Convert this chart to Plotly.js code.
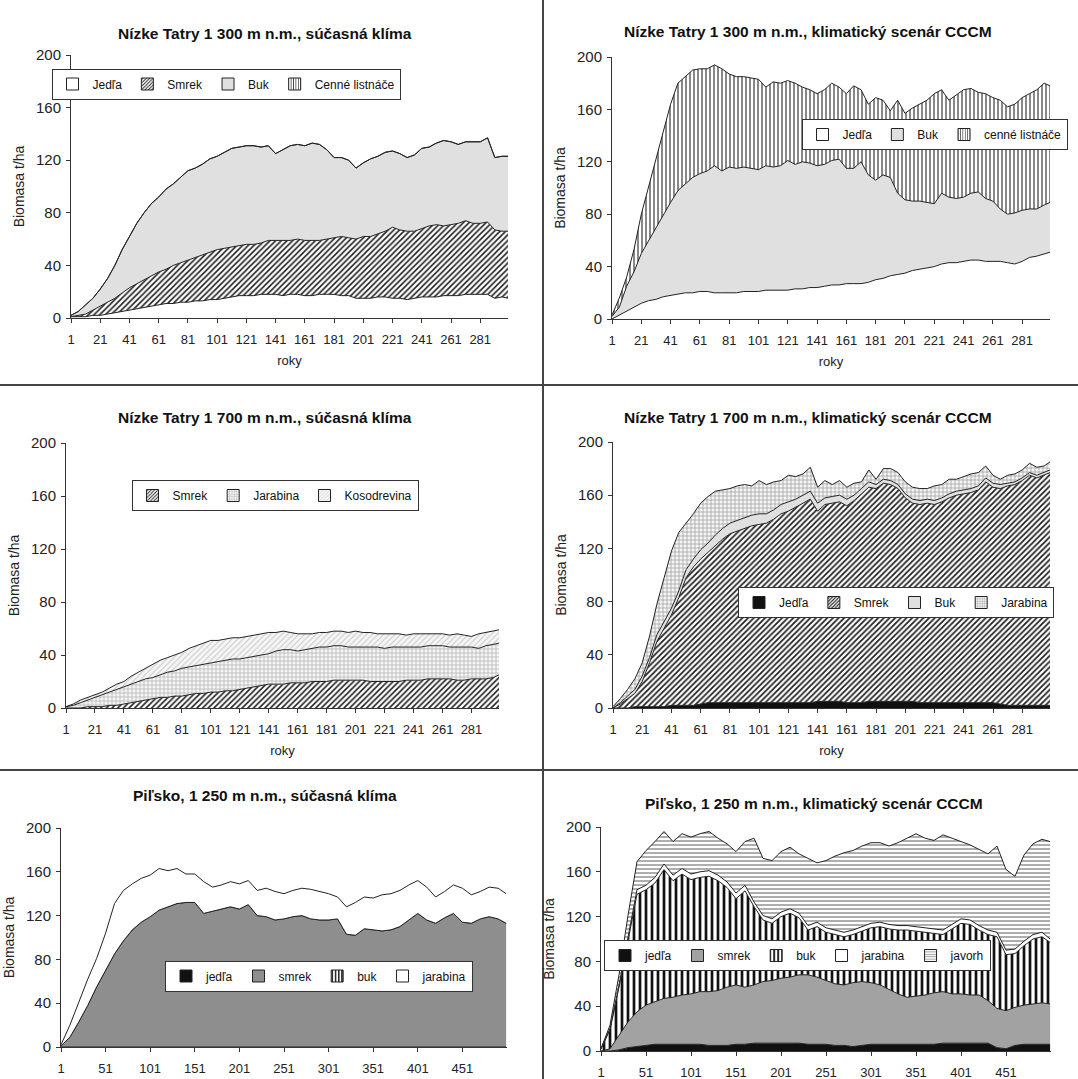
<!DOCTYPE html>
<html><head><meta charset="utf-8">
<script src="https://cdn.plot.ly/plotly-3.0.1.min.js"></script>
<style>html,body{margin:0;padding:0;background:#fff;overflow:hidden}#chart{width:1078px;height:1079px}</style>
</head><body><div id="chart"></div>
<script>
// ---------- years ----------
const yrs300 = [1,6,11,16,21,26,31,36,41,46,51,56,61,66,71,76,81,86,91,96,101,106,111,116,121,126,131,136,141,146,151,156,161,166,171,176,181,186,191,196,201,206,211,216,221,226,231,236,241,246,251,256,261,266,271,276,281,286,291,296,300];
const yrs500 = [1,11,21,31,41,51,61,71,81,91,101,111,121,131,141,151,161,171,181,191,201,211,221,231,241,251,261,271,281,291,301,311,321,331,341,351,361,371,381,391,401,411,421,431,441,451,461,471,481,491,500];
const ticks300 = [1,21,41,61,81,101,121,141,161,181,201,221,241,261,281];
const ticks500 = [1,51,101,151,201,251,301,351,401,451];

// ---------- A: Nízke Tatry 1 300, súčasná klíma ----------
const a_jedla = [1,1,1,2,2,3,4,5,6,7,8,9,10,11,11,12,12,13,13,14,14,15,16,17,17,17,18,18,18,17,18,18,17,17,18,18,18,17,17,15,15,15,16,16,15,15,14,15,16,16,16,17,17,17,18,18,18,18,15,16,15];
const a_smrek = [0,1,2,4,7,9,11,14,17,19,21,23,25,26,29,30,32,33,35,36,38,38,38,38,39,39,39,41,41,42,41,42,42,42,41,42,43,45,44,45,47,47,48,50,54,52,52,51,52,54,55,53,54,55,56,54,54,55,52,50,51];
const a_buk = [1,3,7,9,13,18,25,33,39,46,51,55,57,61,62,65,68,68,69,71,71,73,75,75,75,75,73,72,66,69,72,72,72,74,73,68,61,60,59,54,56,59,59,60,58,58,56,58,61,60,62,65,63,60,60,62,62,64,55,57,57];
const a_cenne = [0,0,0,0,0,0,0,0,0,0,0,0,0,0,0,0,0,0,0,0,0,0,0,0,0,0,0,0,0,0,0,0,0,0,0,0,0,0,0,0,0,0,0,0,0,0,0,0,0,0,0,0,0,0,0,0,0,0,0,0,0];

// ---------- B: Nízke Tatry 1 300, CCCM ----------
const b_jedla = [0,3,6,9,12,14,15,17,18,19,20,20,21,21,20,20,20,20,21,21,21,22,22,22,22,23,23,24,24,25,26,26,27,27,27,28,30,31,33,34,35,37,38,39,40,42,43,43,44,45,45,44,44,44,43,42,44,47,48,50,51];
const b_buk = [2,6,19,27,38,46,55,62,71,79,83,88,90,92,97,93,96,95,95,94,93,95,94,95,99,95,97,95,93,93,95,96,88,88,93,82,76,79,75,62,56,53,52,50,48,54,50,49,49,51,52,48,46,40,37,39,39,37,36,37,38];
const b_cenne = [1,7,7,17,30,41,54,64,75,82,82,82,80,78,77,78,71,70,69,69,69,60,65,63,61,62,57,56,55,57,59,55,57,63,55,54,63,57,51,71,66,71,74,78,84,79,74,79,82,80,76,80,79,83,82,83,86,88,91,93,89];

// ---------- C: Nízke Tatry 1 700, súčasná klíma ----------
const c_smrek = [0,0,0,1,1,1,2,2,3,4,5,6,7,8,8,9,9,10,11,11,12,12,13,13,14,15,16,17,18,18,18,19,19,19,20,20,20,21,21,21,21,21,20,20,20,20,20,21,21,21,22,22,22,22,21,21,22,22,22,23,25];
const c_jarabina = [1,2,4,5,7,9,10,12,13,14,15,16,16,17,19,19,21,21,21,22,22,23,23,24,23,23,23,23,23,25,26,25,24,25,25,26,26,26,26,25,25,25,26,26,25,26,26,25,25,25,25,25,25,24,25,25,24,23,25,25,24];
const c_koso = [0,1,2,2,2,2,3,4,4,6,7,8,10,11,11,12,12,14,15,16,17,16,16,16,16,16,16,16,16,14,14,13,13,12,11,11,11,11,11,11,12,11,11,10,11,10,10,9,10,10,9,9,9,9,10,9,8,11,10,10,10];

// ---------- D: Nízke Tatry 1 700, CCCM ----------
const d_jedla = [0,0,0,1,1,1,1,1,2,2,2,2,3,4,4,4,4,4,4,4,4,4,4,4,4,4,4,4,5,5,5,5,4,4,4,5,5,5,5,5,5,5,4,4,4,4,4,4,4,4,4,4,4,3,2,2,2,2,2,2,2];
const d_smrek = [0,3,7,10,19,33,49,59,68,81,96,104,109,113,118,123,127,129,131,133,134,135,138,142,144,147,150,153,143,148,149,150,148,152,157,161,160,164,163,160,153,149,149,150,149,151,154,156,157,158,160,166,162,162,165,166,169,173,171,173,175];
const d_buk = [0,1,2,3,4,4,5,5,5,5,6,6,7,7,8,8,8,8,8,8,8,7,7,7,7,6,6,6,6,5,5,5,5,4,4,4,3,3,3,3,3,3,3,3,3,3,3,3,3,3,3,3,3,3,2,2,2,2,2,2,2];
const d_jarabina = [1,3,5,8,10,16,23,33,43,44,35,34,35,35,33,29,26,26,25,22,25,22,21,18,20,17,16,18,12,13,9,11,9,9,5,9,4,8,9,9,9,9,9,8,11,10,11,9,10,11,10,9,6,4,6,6,6,7,6,5,6];

// ---------- E: Piľsko, súčasná klíma ----------
const e_jedla = [0,0,0,0,0,0,0,0,0,0,0,0,0,0,0,0,0,0,0,0,0,0,0,0,0,0,0,0,0,0,0,0,0,0,0,0,0,0,0,0,0,0,0,0,0,0,0,0,0,0,0];
const e_smrek = [1,9,23,38,55,70,85,97,107,114,119,125,128,131,132,132,122,124,126,128,126,130,120,119,116,117,119,120,117,116,116,117,103,102,108,107,106,107,110,116,122,116,113,118,122,114,113,117,119,117,113];
const e_buk = [0,0,0,0,0,0,0,0,0,0,0,0,0,0,0,0,0,0,0,0,0,0,0,0,0,0,0,0,0,0,0,0,0,0,0,0,0,0,0,0,0,0,0,0,0,0,0,0,0,0,0];
const e_jarabina = [1,11,18,24,26,34,46,46,42,40,38,38,33,32,26,26,29,22,22,23,23,22,23,26,26,23,24,25,27,26,24,20,25,30,29,29,33,33,33,32,30,30,24,24,26,31,26,25,27,28,27];

// ---------- F: Piľsko, CCCM ----------
const f_jedla = [0,0,1,3,4,5,6,6,6,6,6,6,5,5,5,6,6,7,7,7,7,7,7,6,6,6,5,5,4,5,6,6,6,6,6,6,6,6,7,7,7,7,7,7,3,2,5,6,6,6,6];
const f_smrek = [0,2,13,23,31,36,38,41,42,44,45,47,48,49,52,53,51,52,55,56,58,59,61,62,60,57,55,54,57,57,55,53,49,45,42,43,44,46,46,44,44,43,43,38,35,34,34,35,36,37,36];
const f_buk = [2,17,43,74,105,103,106,115,104,108,102,102,103,98,89,77,86,70,55,51,55,57,51,40,45,43,44,43,43,45,49,52,54,57,60,58,56,53,51,58,63,63,58,59,64,50,48,53,58,59,55];
const f_jarabina = [0,1,2,3,4,4,5,5,5,5,5,5,5,5,5,5,5,4,4,4,4,4,4,4,4,4,4,4,4,4,4,4,4,4,4,4,4,4,4,4,4,4,4,4,4,4,4,4,4,4,3];
const f_javorh = [0,3,9,18,25,31,32,29,30,31,33,34,35,33,34,37,39,57,51,52,54,55,53,60,53,60,66,71,71,72,72,71,70,74,78,83,80,79,85,77,69,67,68,68,77,72,65,77,81,83,87];

// ---------- styles ----------
const FONT = 'Liberation Sans, Arial, sans-serif';
const WHITE = {color:'#ffffff'};
const LGRAY = {color:'#e0e0e0'};
const BLACK = {color:'#111111'};
const pat = (shape, fg, bg, size, sol) => ({pattern:{shape:shape, fgcolor:fg, bgcolor:bg, size:size, solidity:sol, fillmode:'replace'}});

const data = [];
function series(x, y, name, ax, grp, leg, style) {
  // the stacked area itself
  const t = {
    type:'scatter', mode:'lines', x:x, y:y, name:name, showlegend:false,
    xaxis:'x'+ax, yaxis:'y'+ax, stackgroup:grp,
    line:{color:'#222', width:1}, hoverinfo:'skip'
  };
  if (style.pattern) { t.fillcolor = style.pattern.bgcolor; t.fillpattern = style.pattern; }
  else t.fillcolor = style.color;
  data.push(t);
  // legend key (square swatch, Excel-like), carries no data
  const k = {
    type:'bar', x:[null], y:[null], name:name, legend:leg, showlegend:true,
    xaxis:'x'+ax, yaxis:'y'+ax, hoverinfo:'skip',
    marker:{color: style.pattern ? style.pattern.bgcolor : style.color, line:{color:'#222', width:1}}
  };
  if (style.pattern) k.marker.pattern = {shape:style.pattern.shape, fgcolor:style.pattern.fgcolor,
      bgcolor:style.pattern.bgcolor, size:Math.max(3, style.pattern.size - 1), solidity:style.pattern.solidity};
  data.push(k);
}

series(yrs300, a_jedla, 'Jedľa', '', 'A', 'legend', WHITE);
series(yrs300, a_smrek, 'Smrek', '', 'A', 'legend', pat('/', '#222', '#ffffff', 4, 0.4));
series(yrs300, a_buk, 'Buk', '', 'A', 'legend', LGRAY);
series(yrs300, a_cenne, 'Cenné listnáče', '', 'A', 'legend', pat('|', '#444', '#ffffff', 4, 0.35));

series(yrs300, b_jedla, 'Jedľa', '2', 'B', 'legend2', WHITE);
series(yrs300, b_buk, 'Buk', '2', 'B', 'legend2', LGRAY);
series(yrs300, b_cenne, 'cenné listnáče', '2', 'B', 'legend2', pat('|', '#555', '#ffffff', 4, 0.35));

series(yrs300, c_smrek, 'Smrek', '3', 'C', 'legend3', pat('/', '#222', '#ffffff', 4, 0.4));
series(yrs300, c_jarabina, 'Jarabina', '3', 'C', 'legend3', pat('+', '#aaaaaa', '#f4f4f4', 4, 0.3));
series(yrs300, c_koso, 'Kosodrevina', '3', 'C', 'legend3', pat('/', '#c8c8c8', '#f6f6f6', 4, 0.25));

series(yrs300, d_jedla, 'Jedľa', '4', 'D', 'legend4', BLACK);
series(yrs300, d_smrek, 'Smrek', '4', 'D', 'legend4', pat('/', '#222', '#ffffff', 4, 0.45));
series(yrs300, d_buk, 'Buk', '4', 'D', 'legend4', LGRAY);
series(yrs300, d_jarabina, 'Jarabina', '4', 'D', 'legend4', pat('+', '#999999', '#f4f4f4', 4, 0.32));

series(yrs500, e_jedla, 'jedľa', '5', 'E', 'legend5', BLACK);
series(yrs500, e_smrek, 'smrek', '5', 'E', 'legend5', {color:'#8e8e8e'});
series(yrs500, e_buk, 'buk', '5', 'E', 'legend5', pat('|', '#111', '#ffffff', 5, 0.45));
series(yrs500, e_jarabina, 'jarabina', '5', 'E', 'legend5', WHITE);

series(yrs500, f_jedla, 'jedľa', '6', 'F', 'legend6', BLACK);
series(yrs500, f_smrek, 'smrek', '6', 'F', 'legend6', {color:'#a2a2a2'});
series(yrs500, f_buk, 'buk', '6', 'F', 'legend6', pat('|', '#111', '#ffffff', 6, 0.45));
series(yrs500, f_jarabina, 'jarabina', '6', 'F', 'legend6', WHITE);
series(yrs500, f_javorh, 'javorh', '6', 'F', 'legend6', pat('-', '#999999', '#ffffff', 4, 0.4));

// ---------- layout ----------
const W = 1078, H = 1079;
const px = v => v / W, py = v => 1 - v / H;

function xax(l, r, anchor, ticks, range, withTitle) {
  const a = {
    domain:[px(l), px(r)], anchor:anchor, range:range, tickvals:ticks, ticktext:ticks.map(String),
    ticks:'outside', ticklen:4, tickcolor:'#333', showline:true, linecolor:'#333', linewidth:1,
    showgrid:false, zeroline:false, tickfont:{family:FONT, size:13, color:'#222'}, ticklabelstandoff:5,
    fixedrange:true, automargin:false
  };
  if (withTitle) a.title = {text:'roky', font:{family:FONT, size:13, color:'#222'}, standoff:10};
  return a;
}
function yax(top, bot, anchor) {
  return {
    domain:[py(bot), py(top)], anchor:anchor, range:[0,200], tickvals:[0,40,80,120,160,200],
    ticks:'outside', ticklen:4, tickcolor:'#333', showline:true, linecolor:'#333', linewidth:1,
    showgrid:false, zeroline:false, tickfont:{family:FONT, size:15, color:'#222'}, ticklabelstandoff:2,
    title:{text:'Biomasa t/ha', font:{family:FONT, size:14, color:'#222'}, standoff:8},
    fixedrange:true, automargin:false
  };
}
function leg(xc, yc, anchor) {
  return {x:px(xc), y:py(yc), xanchor:anchor || 'center', yanchor:'middle', orientation:'h',
    bgcolor:'#ffffff', bordercolor:'#333', borderwidth:1, traceorder:'normal',
    font:{family:FONT, size:12, color:'#111'}, itemwidth:30};
}
function ttl(text, xc, yc) {
  return {text:'<b>'+text+'</b>', x:px(xc), y:py(yc), xref:'paper', yref:'paper',
    showarrow:false, xanchor:'center', yanchor:'middle', font:{family:FONT, size:15.5, color:'#111'}};
}

const layout = {
  width:W, height:H, margin:{l:0, r:0, t:0, b:0, autoexpand:false},
  paper_bgcolor:'#ffffff', plot_bgcolor:'rgba(0,0,0,0)', showlegend:true,
  font:{family:FONT}, barmode:'overlay',
  xaxis:  xax(71, 508, 'y', ticks300, [1,300], true),
  yaxis:  yax(55, 318, 'x'),
  xaxis2: xax(612, 1050, 'y2', ticks300, [1,300], true),
  yaxis2: yax(57, 319, 'x2'),
  xaxis3: xax(66, 499, 'y3', ticks300, [1,300], true),
  yaxis3: yax(443, 708, 'x3'),
  xaxis4: xax(613, 1050, 'y4', ticks300, [1,300], true),
  yaxis4: yax(442, 708, 'x4'),
  xaxis5: xax(61, 507, 'y5', ticks500, [1,501], false),
  yaxis5: yax(828, 1047, 'x5'),
  xaxis6: xax(601, 1051, 'y6', ticks500, [1,501], false),
  yaxis6: yax(827, 1051, 'x6'),
  legend:  leg(226, 84),
  legend2: leg(934.5, 134.5),
  legend3: leg(275, 495.5),
  legend4: leg(896, 602.5),
  legend5: leg(319, 976),
  legend6: leg(797.5, 955.5),
  annotations:[
    ttl('Nízke Tatry 1 300 m n.m., súčasná klíma', 265, 33),
    ttl('Nízke Tatry 1 300 m n.m., klimatický scenár CCCM', 808, 32),
    ttl('Nízke Tatry 1 700 m n.m., súčasná klíma', 265, 417),
    ttl('Nízke Tatry 1 700 m n.m., klimatický scenár CCCM', 808, 417),
    ttl('Piľsko, 1 250 m n.m., súčasná klíma', 265, 795),
    ttl('Piľsko, 1 250 m n.m., klimatický scenár CCCM', 814, 803)
  ],
  shapes:[
    {type:'line', xref:'paper', yref:'paper', x0:px(543), x1:px(543), y0:0, y1:1, line:{color:'#444', width:2}},
    {type:'line', xref:'paper', yref:'paper', x0:0, x1:1, y0:py(385), y1:py(385), line:{color:'#444', width:2}},
    {type:'line', xref:'paper', yref:'paper', x0:0, x1:1, y0:py(770), y1:py(770), line:{color:'#444', width:2}}
  ]
};

Plotly.newPlot('chart', data, layout, {staticPlot:true, displayModeBar:false});
</script>
</body></html>
